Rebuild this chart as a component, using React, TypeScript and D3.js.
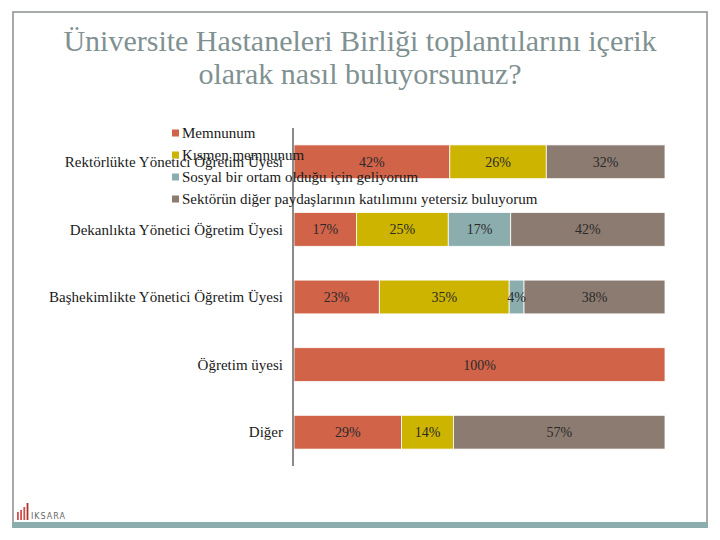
import React from "react";
import * as d3 from "d3";

const categories = [
  "Rektörlükte Yönetici Öğretim Üyesi",
  "Dekanlıkta Yönetici Öğretim Üyesi",
  "Başhekimlikte Yönetici Öğretim Üyesi",
  "Öğretim üyesi",
  "Diğer",
];
const seriesNames = [
  "Memnunum",
  "Kısmen memnunum",
  "Sosyal bir ortam olduğu için geliyorum",
  "Sektörün diğer paydaşlarının katılımını yetersiz buluyorum",
];
const memnunum = [42, 17, 23, 100, 29];
const kismen = [26, 25, 35, 0, 14];
const sosyal = [0, 17, 4, 0, 0];
const yetersiz = [32, 42, 38, 0, 57];
const colors = ["#D16349", "#CCB400", "#8CADAE", "#8C7B70"];
const titleLines = [
  "Üniversite Hastaneleri Birliği toplantılarını içerik",
  "olarak nasıl buluyorsunuz?",
];

const W = 720;
const H = 540;

export default function App() {
  const seriesValues = [memnunum, kismen, sosyal, yetersiz];
  const rows = categories.map((c, i) => {
    const r: any = { cat: c };
    seriesNames.forEach((s, j) => (r[s] = seriesValues[j][i]));
    return r;
  });
  const stack = d3.stack<any>().keys(seriesNames).offset(d3.stackOffsetExpand);
  const stacked = stack(rows);

  const x = d3.scaleLinear().domain([0, 1]).range([294, 665]);
  const y = d3
    .scaleBand<string>()
    .domain(categories)
    .range([128, 466])
    .paddingInner(0.5)
    .paddingOuter(0.25);

  const serif = "Liberation Serif, DejaVu Serif, serif";
  const legendY = d3.scalePoint<string>().domain(seriesNames).range([133, 199]);

  return (
    <svg
      width={W}
      height={H}
      style={{ position: "absolute", left: 0, top: 0, background: "#fff" }}
    >
      {/* frame */}
      <rect x={13} y={12} width={694} height={513} fill="none" stroke="#8a8f8f" strokeWidth={1.5} />
      <rect x={12} y={522} width={696} height={6} fill="#8CADAE" />

      {/* title */}
      {titleLines.map((t, i) => (
        <text
          key={i}
          x={360}
          y={51 + i * 33}
          textAnchor="middle"
          fontFamily={serif}
          fontSize={30}
          fill="#7f9191"
        >
          {t}
        </text>
      ))}

      {/* bars */}
      {stacked.map((s, si) => (
        <g key={s.key} fill={colors[si]}>
          {s.map((d, di) => {
            const w = x(d[1]) - x(d[0]);
            if (w <= 0) return null;
            return (
              <rect
                key={di}
                x={x(d[0])}
                y={y(categories[di])}
                width={w}
                height={y.bandwidth()}
                stroke="#fff"
                strokeWidth={0.8}
              />
            );
          })}
        </g>
      ))}

      {/* data labels */}
      {stacked.map((s, si) => (
        <g key={"l" + s.key}>
          {s.map((d, di) => {
            const v = seriesValues[si][di];
            if (!v) return null;
            return (
              <text
                key={di}
                x={(x(d[0]) + x(d[1])) / 2}
                y={(y(categories[di]) as number) + y.bandwidth() / 2}
                dy="0.35em"
                textAnchor="middle"
                fontFamily={serif}
                fontSize={14}
                fill="#2a2a2a"
              >
                {v}%
              </text>
            );
          })}
        </g>
      ))}

      {/* axis line */}
      <line x1={293} x2={293} y1={128} y2={466} stroke="#8a8a8a" strokeWidth={2} />

      {/* category labels */}
      {categories.map((c) => (
        <text
          key={c}
          x={283}
          y={(y(c) as number) + y.bandwidth() / 2}
          dy="0.35em"
          textAnchor="end"
          fontFamily={serif}
          fontSize={15}
          fill="#1a1a1a"
        >
          {c}
        </text>
      ))}

      {/* legend */}
      {seriesNames.map((s, i) => (
        <g key={"lg" + s}>
          <rect x={172} y={(legendY(s) as number) - 3.5} width={7} height={7} fill={colors[i]} />
          <text
            x={182}
            y={legendY(s)}
            dy="0.35em"
            fontFamily={serif}
            fontSize={15}
            fill="#1a1a1a"
          >
            {s}
          </text>
        </g>
      ))}

      {/* logo */}
      <g>
        {[0, 1, 2, 3].map((i) => (
          <rect
            key={i}
            x={17 + i * 3.2}
            y={[512, 510, 507, 503][i]}
            width={1.8}
            height={[8, 10, 13, 17][i]}
            fill={i === 3 ? "#a8322d" : "#d0504a"}
          />
        ))}
        <text x={31} y={519} fontFamily="DejaVu Sans, sans-serif" fontSize={8} fill="#666" letterSpacing={1}>
          IKSARA
        </text>
      </g>
    </svg>
  );
}
